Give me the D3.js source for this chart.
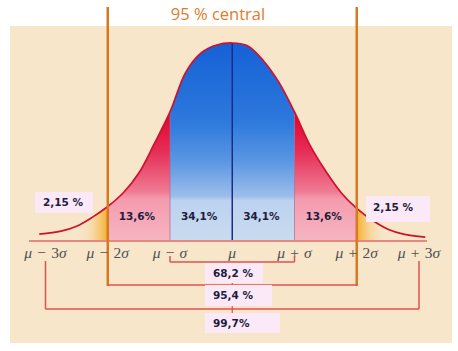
<!DOCTYPE html>
<html>
<head>
<meta charset="utf-8">
<script src="https://cdn.jsdelivr.net/npm/d3@7"></script>
<style>
  body { margin: 0; background: #fff; }
  svg { display: block; }
</style>
</head>
<body>
<svg id="chart"></svg>
<script>
// curve height (% of peak) at z = (x - mu) / sigma
const zPoints      = [-3.1, -2.75, -2.5, -2.25, -2, -1.75, -1.5, -1.25, -1, -0.75, -0.5, -0.25, 0,
                      0.25, 0.5, 0.75, 1, 1.25, 1.5, 1.75, 2, 2.25, 2.5, 2.75, 3.1];
const curveHeights = [3, 4.5, 7, 11.5, 17, 24, 34, 49, 65, 85, 95, 99, 100,
                      98.5, 91, 80, 65, 48, 35, 24, 16, 10, 5.5, 3, 1.5];

const sigmaTicks = [-3, -2, -1, 0, 1, 2, 3];
const tickLabels = ["μ − 3σ", "μ − 2σ", "μ − σ", "μ", "μ + σ", "μ + 2σ", "μ + 3σ"];

const bandEdges  = [[-2, -1], [-1, 0], [0, 1], [1, 2]];
const bandLabels = ["13,6%", "34,1%", "34,1%", "13,6%"];
const tailLabel  = "2,15 %";

const rangeSigmas = [1, 2, 3];
const rangeLabels = ["68,2 %", "95,4 %", "99,7%"];

const titleText = "95 % central";

class NormalChart {
    constructor(_config) {
        this.config = {
            parentElement: _config.parentElement,
            containerWidth: _config.containerWidth || 458,
            containerHeight: _config.containerHeight || 351,
            baseY: 240
        };
        this.initVis();
    }

    initVis() {
        let vis = this;

        vis.svg = d3.select(vis.config.parentElement)
            .attr('width', vis.config.containerWidth)
            .attr('height', vis.config.containerHeight);

        vis.xScale = d3.scaleLinear()
            .domain([-2, 2])
            .range([107.75, 356.75]);

        vis.yScale = d3.scaleLinear()
            .domain([0, 100])
            .range([vis.config.baseY, 43]);

        vis.points = zPoints.map((z, i) => ({z: z, h: curveHeights[i]}));

        vis.area = d3.area()
            .x(d => vis.xScale(d.z))
            .y0(vis.config.baseY)
            .y1(d => vis.yScale(d.h))
            .curve(d3.curveCatmullRom);

        vis.line = d3.line()
            .x(d => vis.xScale(d.z))
            .y(d => vis.yScale(d.h))
            .curve(d3.curveCatmullRom);

        vis.defs = vis.svg.append('defs');
        vis.renderVis();
    }

    gradient(id, x1, y1, x2, y2, stops) {
        let g = this.defs.append('linearGradient')
            .attr('id', id)
            .attr('gradientUnits', 'userSpaceOnUse')
            .attr('x1', x1).attr('y1', y1).attr('x2', x2).attr('y2', y2);
        stops.forEach(s => g.append('stop')
            .attr('offset', s[0])
            .attr('stop-color', s[1])
            .attr('stop-opacity', s[2] === undefined ? 1 : s[2]));
    }

    clip(id, a, b) {
        this.defs.append('clipPath').attr('id', id)
            .append('rect')
            .attr('x', this.xScale(a))
            .attr('y', 0)
            .attr('width', this.xScale(b) - this.xScale(a))
            .attr('height', this.config.containerHeight);
    }

    renderVis() {
        let vis = this;
        const x = vis.xScale, y = vis.yScale, base = vis.config.baseY;

        // paper background
        vis.svg.append('rect')
            .attr('x', 10).attr('y', 26)
            .attr('width', 442).attr('height', 317)
            .attr('fill', '#f7e6ca');

        vis.gradient('blueGrad', 0, y(100), 0, base, [
            [0, '#1561d6'], [0.4, '#2d79dd'], [0.6, '#5a96e3'], [0.78, '#9dbeea'], [0.8, '#bcd2ef'], [1, '#c9dbf0']]);
        vis.gradient('redGrad', 0, y(65), 0, base, [
            [0, '#df042c'], [0.3, '#e52c55'], [0.62, '#ef7a92'], [0.68, '#f49cae'], [1, '#f6b4c1']]);
        vis.gradient('tailGradL', x(-2), 0, x(-2.5), 0, [
            [0, '#f6ab22', 0.95], [0.45, '#f8c870', 0.5], [1, '#f7e6ca', 0]]);
        vis.gradient('tailGradR', x(2), 0, x(2.5), 0, [
            [0, '#f6ab22', 0.95], [0.45, '#f8c870', 0.5], [1, '#f7e6ca', 0]]);

        // filled bands under the curve
        const fills = [
            {id: 'cTailL', a: -3.2, b: -2, fill: 'url(#tailGradL)'},
            {id: 'cRedL', a: -2, b: -1, fill: 'url(#redGrad)'},
            {id: 'cBlue', a: -1, b: 1, fill: 'url(#blueGrad)'},
            {id: 'cRedR', a: 1, b: 2, fill: 'url(#redGrad)'},
            {id: 'cTailR', a: 2, b: 3.2, fill: 'url(#tailGradR)'}
        ];
        fills.forEach(f => {
            vis.clip(f.id, f.a, f.b);
            vis.svg.append('path')
                .datum(vis.points)
                .attr('clip-path', `url(#${f.id})`)
                .attr('fill', f.fill)
                .attr('d', vis.area);
        });

        // separators at +-sigma and mu
        [-1, 1].forEach(s => {
            vis.svg.append('line')
                .attr('x1', x(s)).attr('x2', x(s))
                .attr('y1', y(65)).attr('y2', base)
                .attr('stroke', '#a8679a').attr('stroke-opacity', 0.7).attr('stroke-width', 1);
        });
        vis.svg.append('line')
            .attr('x1', x(0)).attr('x2', x(0))
            .attr('y1', y(100)).attr('y2', base)
            .attr('stroke', '#1c2c86').attr('stroke-width', 1.5);

        // curve outline
        vis.svg.append('path')
            .datum(vis.points)
            .attr('fill', 'none')
            .attr('stroke', '#d0102e')
            .attr('stroke-width', 1.7)
            .attr('d', vis.line);

        // baseline
        vis.svg.append('line')
            .attr('x1', 29).attr('x2', 427)
            .attr('y1', base + 1).attr('y2', base + 1)
            .attr('stroke', '#e26868').attr('stroke-width', 1.5);

        // band percentages
        vis.svg.selectAll('.band-label')
            .data(bandEdges)
            .join('text')
            .attr('class', 'band-label')
            .attr('x', (d, i) => x((d[0] + d[1]) / 2) - 2)
            .attr('y', 220)
            .attr('text-anchor', 'middle')
            .attr('font-family', 'DejaVu Sans')
            .attr('font-weight', 'bold')
            .attr('font-size', 10.5)
            .attr('fill', '#1d1d3d')
            .text((d, i) => bandLabels[i]);

        // tail boxes
        const tails = [{bx: 35, by: 192, bw: 58, bh: 21, tx: 43, ty: 206},
                       {bx: 366, by: 196, bw: 64, bh: 26, tx: 373, ty: 211}];
        tails.forEach(t => {
            vis.svg.append('rect')
                .attr('x', t.bx).attr('y', t.by)
                .attr('width', t.bw).attr('height', t.bh)
                .attr('fill', '#fce9f8');
            vis.svg.append('text')
                .attr('x', t.tx).attr('y', t.ty)
                .attr('font-family', 'DejaVu Sans')
                .attr('font-weight', 'bold')
                .attr('font-size', 10.5)
                .attr('fill', '#1d1d3d')
                .text(tailLabel);
        });

        // 95 % central vertical lines
        [-2, 2].forEach(s => {
            vis.svg.append('line')
                .attr('x1', x(s)).attr('x2', x(s))
                .attr('y1', 7).attr('y2', 286)
                .attr('stroke', '#d67a22').attr('stroke-width', 2.5);
        });

        vis.svg.append('text')
            .attr('x', 218).attr('y', 20)
            .attr('text-anchor', 'middle')
            .attr('font-family', 'Open Sans')
            .attr('font-size', 16.5)
            .attr('fill', '#e07b2a')
            .text(titleText);

        // axis tick labels
        const ticks = vis.svg.selectAll('.tick-label')
            .data(sigmaTicks)
            .join('text')
            .attr('class', 'tick-label')
            .attr('x', d => x(d))
            .attr('y', 258)
            .attr('text-anchor', 'middle')
            .attr('font-family', 'Liberation Serif')
            .attr('font-size', 15.5)
            .attr('fill', '#505050');
        ticks.each(function(d, i) {
            const parts = tickLabels[i].split(/([μσ])/).filter(p => p.length);
            d3.select(this).selectAll('tspan')
                .data(parts)
                .join('tspan')
                .attr('font-style', p => /[μσ]/.test(p) ? 'italic' : 'normal')
                .text(p => p.replace(/ /g, '\u2004'));
        });

        // range brackets
        const bracket = [
            {yLine: 262, yTop: 256, box: [205, 263, 58, 20], ty: 277},
            {yLine: 285, yTop: null, box: [205, 285, 67, 21], ty: 299},
            {yLine: 309, yTop: 261, box: [205, 313, 75, 20], ty: 327}
        ];
        const red = '#e05050';

        vis.svg.append('line')
            .attr('x1', x(0)).attr('x2', x(0))
            .attr('y1', 283).attr('y2', 313)
            .attr('stroke', red).attr('stroke-width', 1.2);

        rangeSigmas.forEach((s, i) => {
            const b = bracket[i];
            vis.svg.append('line')
                .attr('x1', x(-s)).attr('x2', x(s))
                .attr('y1', b.yLine).attr('y2', b.yLine)
                .attr('stroke', red).attr('stroke-width', 1.5);
            if (b.yTop !== null) {
                [-s, s].forEach(v => {
                    vis.svg.append('line')
                        .attr('x1', x(v)).attr('x2', x(v))
                        .attr('y1', b.yTop).attr('y2', b.yLine)
                        .attr('stroke', red).attr('stroke-width', 1.5);
                });
            }
            vis.svg.append('rect')
                .attr('x', b.box[0]).attr('y', b.box[1])
                .attr('width', b.box[2]).attr('height', b.box[3])
                .attr('fill', '#fce9f8');
            vis.svg.append('text')
                .attr('x', 213).attr('y', b.ty)
                .attr('font-family', 'DejaVu Sans')
                .attr('font-weight', 'bold')
                .attr('font-size', 10.5)
                .attr('fill', '#1d1d3d')
                .text(rangeLabels[i]);
        });
    }
}

new NormalChart({parentElement: '#chart'});
</script>
</body>
</html>
